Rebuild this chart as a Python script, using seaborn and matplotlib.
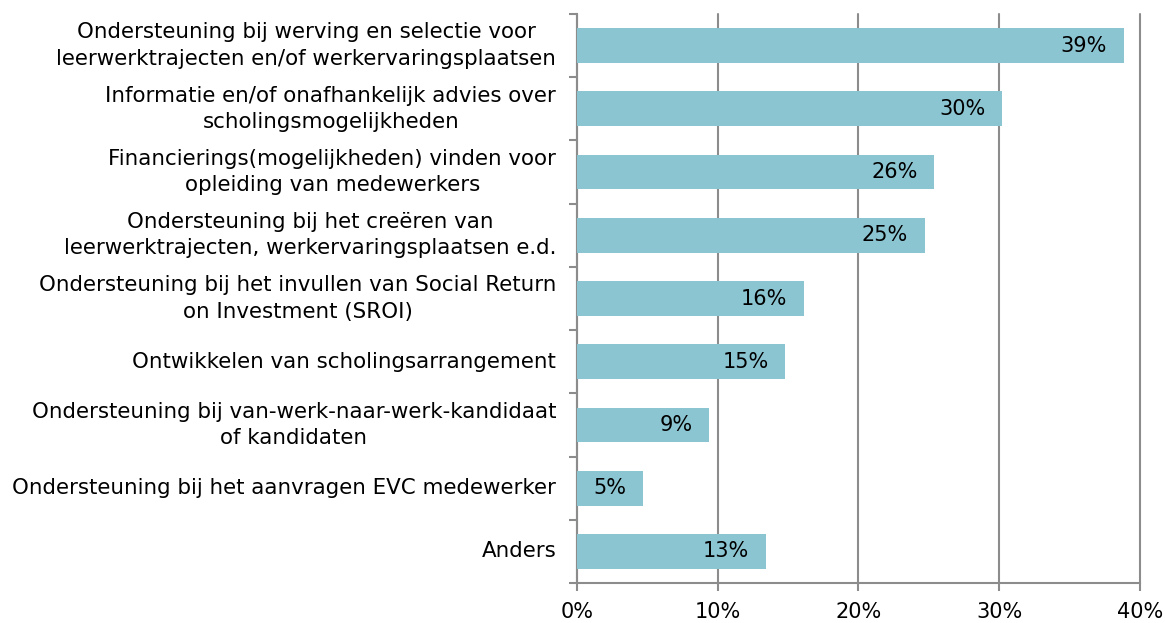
import pandas as pd
import matplotlib.pyplot as plt
import seaborn as sns

categorieen = [
    'Ondersteuning bij werving en selectie voor\nleerwerktrajecten en/of werkervaringsplaatsen',
    'Informatie en/of onafhankelijk advies over\nscholingsmogelijkheden',
    'Financierings(mogelijkheden) vinden voor\nopleiding van medewerkers',
    'Ondersteuning bij het creëren van\nleerwerktrajecten, werkervaringsplaatsen e.d.',
    'Ondersteuning bij het invullen van Social Return\non Investment (SROI)',
    'Ontwikkelen van scholingsarrangement',
    'Ondersteuning bij van-werk-naar-werk-kandidaat\nof kandidaten',
    'Ondersteuning bij het aanvragen EVC medewerker',
    'Anders',
]
percentages = [38.85, 30.2, 25.4, 24.7, 16.1, 14.8, 9.4, 4.7, 13.4]
labels = ['39%', '30%', '26%', '25%', '16%', '15%', '9%', '5%', '13%']

df = pd.DataFrame({'Categorie': categorieen, 'Percentage': percentages})

sns.set_style('white')
plt.rcParams['font.family'] = ['DejaVu Sans']

fig = plt.figure(figsize=(11.65, 6.23), dpi=100)
ax = fig.add_axes([0.4953, 0.0642, 0.4832, 0.9133])

grijs = '#8c8c8c'
sns.barplot(data=df, x='Percentage', y='Categorie', color='#8CC5D2',
            saturation=1, width=0.55, linewidth=0, ax=ax, zorder=3)

ax.set_xlim(0, 40)
ax.set_ylim(len(categorieen) - 0.5, -0.5)
ax.set_xticks([0, 10, 20, 30, 40])
ax.set_xticklabels(['0%', '10%', '20%', '30%', '40%'], fontsize=15, color='black')
ax.set_xlabel('')
ax.set_ylabel('')

# verticale rasterlijnen
ax.xaxis.grid(True, color=grijs, linewidth=1.5, zorder=0)
for gl in ax.get_xgridlines():
    gl.set_clip_on(False)
ax.set_axisbelow(True)

# streepjes tussen de categorieën
ax.set_yticks(range(len(categorieen)))
ax.set_yticklabels(categorieen, fontsize=15.4, ha='right', va='center',
                   linespacing=1.4, multialignment='center', color='black')
ax.tick_params(axis='y', which='major', left=True, length=0, pad=15)
ax.set_yticks([i - 0.5 for i in range(len(categorieen) + 1)], minor=True)
ax.tick_params(axis='y', which='minor', left=True, length=6, width=1.5,
               color=grijs)
ax.tick_params(axis='x', bottom=True, length=6, width=1.5, color=grijs, pad=8)

for side in ['top', 'right']:
    ax.spines[side].set_visible(False)
for side in ['left', 'bottom']:
    ax.spines[side].set_color(grijs)
    ax.spines[side].set_linewidth(1.5)

for i, (v, t) in enumerate(zip(percentages, labels)):
    ax.annotate(t, xy=(v, i), xytext=(-12, 0), textcoords='offset points',
                ha='right', va='center', fontsize=15, color='black', zorder=4)

fig.savefig('out.png', dpi=100)
